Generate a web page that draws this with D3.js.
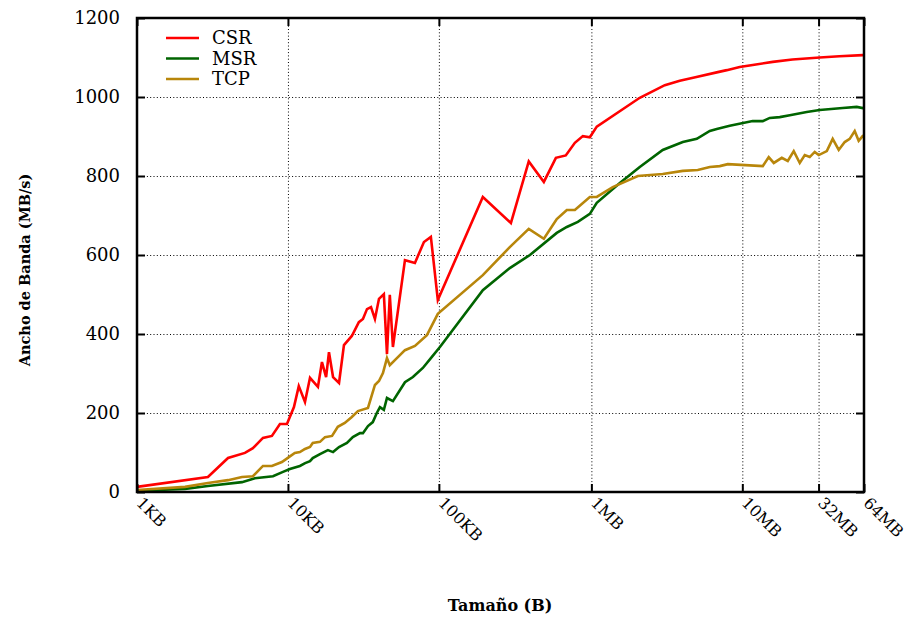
<!DOCTYPE html>
<html>
<head>
<meta charset="utf-8">
<script src="https://cdn.jsdelivr.net/npm/d3@7"></script>
<style>
  html, body { margin: 0; padding: 0; background: #fff; }
  svg { display: block; }
  text { font-family: "DejaVu Serif", "Liberation Serif", serif; fill: #000; }
</style>
</head>
<body>
<svg id="chart" width="910" height="618"></svg>
<script>
// ---------- DATA ----------
// message sizes in KB (1 MB = 1024 KB)
const csrSizes = [1, 2.95, 4.01, 5.19, 5.86, 6.83, 7.83, 8.85, 9.85, 10.96, 11.8, 12.97, 14.0, 15.8, 16.8, 17.9, 18.7, 19.9, 21.8, 23.5, 26.5, 29.5, 31.4, 33.4, 35.5, 37.7, 40.1, 43.2, 45.3, 47.3, 49.6, 59.6, 69.4, 79.6, 88.5, 98.4, 195.5, 300, 394, 496, 596, 693, 796, 899, 1000, 1112, 2143, 3139, 3945, 5000, 7047, 8078, 9838, 12000, 16289, 22000, 33350, 45000, 64230, 65536];
const csrValues = [13, 38, 86, 99, 111, 137, 142, 172, 172, 215, 268, 228, 289, 266, 329, 291, 354, 291, 276, 372, 395, 430, 438, 463, 468, 438, 489, 501, 349, 499, 367, 587, 580, 633, 646, 486, 747, 681, 837, 785, 846, 852, 884, 901, 898, 925, 998, 1030, 1041, 1050, 1063, 1068, 1076, 1081, 1089, 1095, 1100, 1103, 1106, 1107];

const msrSizes = [1, 2.08, 2.95, 4.96, 6.04, 7.96, 9.27, 10.3, 12.0, 13.0, 14.0, 14.6, 16.3, 18.4, 19.9, 21.8, 24.6, 26.9, 30.0, 31.4, 33.9, 36.5, 38.8, 40.7, 43.2, 45.3, 49.6, 59.6, 67.3, 78.3, 89.9, 101.6, 195.5, 295, 401, 604, 704, 833, 1000, 1112, 1581, 2143, 3041, 4130, 5115, 6235, 6937, 8453, 11995, 13986, 15560, 18130, 21130, 27350, 33350, 47340, 58650, 64230, 65536];
const msrValues = [3, 8, 15, 25, 35, 40, 51, 58, 66, 73, 78, 86, 96, 106, 101, 114, 124, 139, 149, 149, 167, 177, 200, 215, 208, 238, 230, 278, 291, 314, 342, 367, 511, 567, 600, 656, 671, 684, 704, 732, 782, 823, 866, 886, 894, 914, 919, 927, 939, 939, 947, 949, 954, 962, 967, 972, 975, 972, 974];

const tcpSizes = [1, 2.08, 2.95, 4.01, 4.96, 5.86, 6.83, 7.83, 9.12, 10.2, 11.1, 12.0, 12.97, 14.0, 14.6, 16.3, 17.6, 19.6, 21.4, 23.8, 26.5, 29.1, 33.9, 37.7, 40.1, 42.6, 45.3, 47.3, 52.7, 59.6, 69.4, 83.3, 98.4, 195.5, 295, 394, 496, 604, 704, 796, 1000, 1112, 1419, 2080, 3041, 4130, 5190, 6235, 7262, 8203, 13986, 15318, 16550, 18700, 20480, 22440, 24600, 26550, 28640, 30900, 32870, 37150, 40650, 44570, 48830, 52700, 56880, 60420, 64230, 65536];
const tcpValues = [5, 13, 23, 30, 38, 40, 66, 66, 76, 89, 99, 101, 109, 114, 124, 127, 139, 142, 165, 175, 190, 205, 213, 271, 281, 301, 339, 321, 339, 359, 370, 397, 451, 549, 620, 666, 641, 691, 714, 714, 747, 747, 772, 800, 805, 813, 815, 823, 825, 830, 825, 848, 833, 846, 838, 863, 833, 853, 848, 861, 853, 863, 894, 866, 886, 894, 914, 889, 901, 903];

const seriesNames = ["CSR", "MSR", "TCP"];
const seriesColors = ["#ff0000", "#006400", "#b8860b"];

const xTicks = [1, 10, 100, 1024, 10240, 32768, 65536];
const xTickLabels = ["1KB", "10KB", "100KB", "1MB", "10MB", "32MB", "64MB"];
const yTicks = [0, 200, 400, 600, 800, 1000, 1200];

const xTitle = "Tamaño (B)";
const yTitle = "Ancho de Banda (MB/s)";

// ---------- CHART ----------
const L = 137, R = 864, T = 18, B = 492;
const svg = d3.select("#chart");

const x = d3.scaleLog().domain([1, 65536]).range([L, R]);
const y = d3.scaleLinear().domain([0, 1200]).range([B, T]);

// grid
const gridY = svg.append("g").attr("transform", `translate(${L},0)`)
  .call(d3.axisLeft(y).tickValues(yTicks.filter(v => v > 0 && v < 1200)).tickSize(-(R - L)).tickFormat(""));
gridY.select(".domain").remove();
gridY.selectAll("line").attr("stroke", "#000").attr("stroke-width", 1).attr("stroke-dasharray", "1,2.3");

const gridX = svg.append("g").attr("transform", `translate(0,${B})`)
  .call(d3.axisBottom(x).tickValues(xTicks.filter(v => v > 1 && v < 65536)).tickSize(-(B - T)).tickFormat(""));
gridX.select(".domain").remove();
gridX.selectAll("line").attr("stroke", "#000").attr("stroke-width", 1).attr("stroke-dasharray", "1,2.3");

// lines
const seriesData = [
  csrSizes.map((s, i) => [s, csrValues[i]]),
  msrSizes.map((s, i) => [s, msrValues[i]]),
  tcpSizes.map((s, i) => [s, tcpValues[i]])
];
const line = d3.line().x(d => x(d[0])).y(d => y(d[1]));
seriesData.forEach((d, i) => {
  svg.append("path").datum(d)
    .attr("fill", "none")
    .attr("stroke", seriesColors[i])
    .attr("stroke-width", 2.6)
    .attr("d", line);
});

// y axis (left) with inward ticks
const yAxis = svg.append("g").attr("transform", `translate(${L},0)`)
  .call(d3.axisLeft(y).tickValues(yTicks).tickSizeInner(-8).tickSizeOuter(0).tickPadding(17)
    .tickFormat(d3.format("d")));
yAxis.select(".domain").remove();
yAxis.selectAll("line").attr("stroke", "#000").attr("stroke-width", 2);
yAxis.selectAll("text").attr("font-family", "DejaVu Serif").attr("font-size", 18);

// y axis (right) ticks only
const yAxisR = svg.append("g").attr("transform", `translate(${R},0)`)
  .call(d3.axisRight(y).tickValues(yTicks).tickSizeInner(-8).tickSizeOuter(0).tickFormat(""));
yAxisR.select(".domain").remove();
yAxisR.selectAll("line").attr("stroke", "#000").attr("stroke-width", 2);

// x axis (bottom)
const xAxis = svg.append("g").attr("transform", `translate(0,${B})`)
  .call(d3.axisBottom(x).tickValues(xTicks).tickSizeInner(-8).tickSizeOuter(0)
    .tickFormat((d, i) => xTickLabels[i]));
xAxis.select(".domain").remove();
xAxis.selectAll("line").attr("stroke", "#000").attr("stroke-width", 2);
xAxis.selectAll("text")
  .attr("font-family", "DejaVu Serif").attr("font-size", 16)
  .attr("text-anchor", "start")
  .attr("y", 0).attr("dy", 0)
  .attr("transform", "translate(-2,12) rotate(45)");

// x axis (top) ticks only
const xAxisT = svg.append("g").attr("transform", `translate(0,${T})`)
  .call(d3.axisTop(x).tickValues(xTicks).tickSizeInner(-8).tickSizeOuter(0).tickFormat(""));
xAxisT.select(".domain").remove();
xAxisT.selectAll("line").attr("stroke", "#000").attr("stroke-width", 2);

// frame
svg.append("rect").attr("x", L).attr("y", T).attr("width", R - L).attr("height", B - T)
  .attr("fill", "none").attr("stroke", "#000").attr("stroke-width", 2.5);

// legend
const legend = svg.append("g");
seriesNames.forEach((name, i) => {
  const ly = 38 + i * 20.5;
  legend.append("line").attr("x1", 166).attr("x2", 199).attr("y1", ly).attr("y2", ly)
    .attr("stroke", seriesColors[i]).attr("stroke-width", 2.6);
  legend.append("text").attr("x", 212).attr("y", ly).attr("dy", "0.35em")
    .attr("font-size", 18).text(name);
});

// axis titles
svg.append("text").attr("x", 500).attr("y", 611).attr("text-anchor", "middle")
  .attr("font-size", 16).attr("font-weight", "bold").text(xTitle);
svg.append("text").attr("transform", "translate(30,270) rotate(-90)")
  .attr("text-anchor", "middle").attr("font-size", 14.5).attr("font-weight", "bold").text(yTitle);
</script>
</body>
</html>
